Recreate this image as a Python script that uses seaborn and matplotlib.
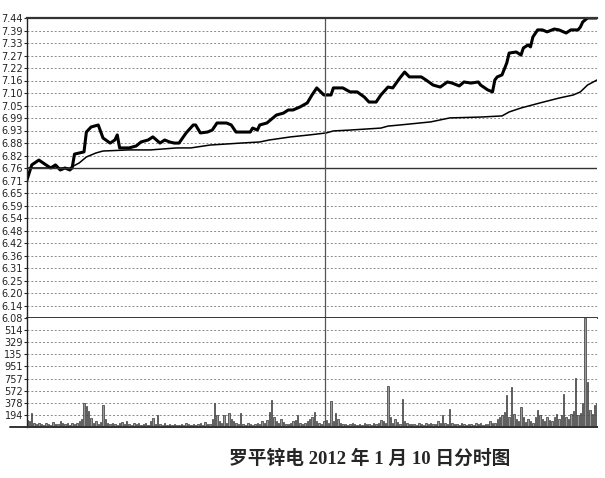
import numpy as np
import pandas as pd
import seaborn as sns
import matplotlib.pyplot as plt

# Intraday chart data (minute index 0..240)
price_min = [0, 2, 5, 8, 10, 12, 14, 16, 18, 19, 20, 22, 24, 25, 27, 30, 32, 35, 37, 38,
             39, 43, 46, 48, 51, 53, 56, 58, 60, 62, 64, 67, 70, 71, 73, 76, 78, 80, 84, 86,
             88, 94, 95, 97, 98, 101, 105, 108, 110, 112, 115, 118, 120, 122, 125, 128, 129, 133, 136, 139,
             142, 144, 147, 149, 152, 154, 157, 159, 161, 166, 168, 171, 174, 177, 179, 182, 184, 187, 190, 191,
             194, 196, 197, 198, 200, 202, 203, 206, 208, 209, 211, 212, 213, 215, 217, 219, 222, 224, 227, 229,
             232, 233, 234, 236, 240]
price_val = [6.706, 6.774, 6.796, 6.774, 6.760, 6.774, 6.751, 6.760, 6.751, 6.760, 6.823, 6.828, 6.833, 6.923, 6.946, 6.955, 6.896, 6.873, 6.887, 6.910,
             6.851, 6.851, 6.860, 6.878, 6.887, 6.901, 6.873, 6.887, 6.878, 6.873, 6.873, 6.919, 6.955, 6.955, 6.919, 6.923, 6.932, 6.964, 6.964, 6.955,
             6.923, 6.923, 6.941, 6.932, 6.955, 6.964, 7.000, 7.009, 7.023, 7.023, 7.037, 7.055, 7.091, 7.123, 7.091, 7.091, 7.123, 7.123, 7.105, 7.105,
             7.082, 7.059, 7.059, 7.091, 7.127, 7.123, 7.168, 7.195, 7.173, 7.173, 7.159, 7.136, 7.127, 7.150, 7.145, 7.132, 7.150, 7.145, 7.150, 7.136,
             7.114, 7.105, 7.159, 7.173, 7.182, 7.236, 7.281, 7.286, 7.272, 7.304, 7.318, 7.309, 7.354, 7.386, 7.386, 7.377, 7.390, 7.386, 7.372, 7.386,
             7.386, 7.399, 7.422, 7.440, 7.440]

avg_min = [0, 18, 22, 25, 29, 32, 43, 52, 63, 69, 77, 90, 98, 102, 111, 119, 126, 129, 136, 149,
           152, 157, 170, 178, 191, 200, 203, 208, 216, 224, 230, 233, 236, 240]
avg_val = [6.760, 6.760, 6.783, 6.810, 6.828, 6.837, 6.842, 6.842, 6.851, 6.851, 6.864, 6.873, 6.878, 6.887, 6.901, 6.910, 6.919, 6.928, 6.932, 6.941,
           6.950, 6.955, 6.969, 6.987, 6.991, 6.996, 7.014, 7.032, 7.055, 7.077, 7.091, 7.105, 7.136, 7.159]

volume = [110, 90, 218, 60, 40, 70, 50, 30, 60, 40,
          35, 80, 50, 40, 90, 60, 40, 55, 30, 70,
          45, 60, 90, 120, 374, 330, 250, 140, 60, 90,
          50, 80, 343, 120, 60, 40, 70, 45, 30, 60,
          80, 40, 90, 50, 35, 60, 40, 70, 30, 45,
          60, 30, 90, 140, 50, 187, 40, 30, 60, 35,
          40, 30, 50, 35, 25, 45, 30, 60, 40, 35,
          50, 30, 45, 60, 35, 80, 50, 40, 120, 374,
          187, 90, 60, 187, 70, 218, 120, 90, 60, 40,
          218, 50, 35, 60, 40, 30, 50, 70, 45, 90,
          60, 110, 234, 420, 150, 90, 60, 120, 80, 50,
          40, 60, 90, 110, 187, 70, 50, 60, 90, 120,
          150, 234, 100, 60, 40, 90, 110, 70, 405, 90,
          220, 120, 60, 45, 40, 30, 50, 60, 40, 35,
          45, 30, 60, 40, 50, 35, 60, 40, 70, 110,
          90, 60, 639, 150, 60, 120, 80, 50, 436, 100,
          60, 45, 40, 50, 35, 60, 40, 30, 70, 45,
          60, 40, 50, 90, 60, 187, 70, 50, 280, 60,
          40, 50, 35, 60, 45, 30, 50, 40, 35, 60,
          45, 60, 30, 50, 40, 90, 60, 70, 120, 150,
          180, 230, 499, 150, 623, 200, 120, 90, 312, 150,
          80, 120, 90, 60, 150, 265, 180, 120, 90, 150,
          110, 90, 150, 200, 130, 180, 514, 160, 120, 200,
          250, 763, 180, 220, 370, 1698, 701, 265, 200, 343,
          370]

price_labels = ['6.08', '6.14', '6.20', '6.25', '6.31', '6.36', '6.42', '6.48', '6.54', '6.59',
                '6.65', '6.71', '6.76', '6.82', '6.88', '6.93', '6.99', '7.05', '7.10', '7.16',
                '7.22', '7.27', '7.33', '7.39', '7.44']
# volume labels as they show on the chart (leading digit cut off in the picture)
vol_labels = ['194', '378', '572', '757', '951', '135', '329', '514']
prev_close = 6.76
title = '罗平锌电 2012 年 1 月 10 日分时图'

sns.set_style("white")
plt.rcParams['font.family'] = ['DejaVu Sans', 'Noto Sans CJK SC']

fig = plt.figure(figsize=(6.05, 4.78), dpi=100)
ax1 = fig.add_axes([27 / 605, 160 / 478, 570 / 605, 300 / 478])
ax2 = fig.add_axes([27 / 605, 51 / 478, 570 / 605, 109 / 478], sharex=ax1)

grid_kw = dict(color='#8a8a8a', lw=0.7, ls=(0, (2, 2)))

# Price panel
pdf = pd.DataFrame({'m': price_min, 'p': price_val})
adf = pd.DataFrame({'m': avg_min, 'p': avg_val})
sns.lineplot(data=pdf, x='m', y='p', ax=ax1, color='black', lw=2.2, estimator=None, sort=False)
sns.lineplot(data=adf, x='m', y='p', ax=ax1, color='black', lw=1.1, estimator=None, sort=False)
ax1.axhline(prev_close, color='#333333', lw=1.0)
ax1.set_xlim(0, 240)
ax1.set_ylim(6.08, 7.44)
ticks = np.linspace(6.08, 7.44, len(price_labels))
ax1.set_yticks(ticks)
ax1.set_yticklabels(price_labels)
for t in ticks[1:-1]:
    ax1.axhline(t, zorder=0, **grid_kw)

# Volume panel
vdf = pd.DataFrame({'m': np.arange(len(volume)), 'v': volume})
sns.barplot(data=vdf, x='m', y='v', ax=ax2, native_scale=True, color='#9a9a9a',
            edgecolor='#333333', linewidth=0.5, width=0.55, errorbar=None)
ax2.set_ylim(0, 1698)
vticks = np.arange(1, len(vol_labels) + 1) * 1698 / 9
ax2.set_yticks(vticks)
ax2.set_yticklabels(vol_labels)
for t in vticks:
    ax2.axhline(t, zorder=0, **grid_kw)
ax2.set_xlim(0, 240)

for ax in (ax1, ax2):
    ax.axvline(125.5, color='#555555', lw=0.9)
    ax.set_xlabel('')
    ax.set_ylabel('')
    ax.tick_params(axis='x', bottom=False, labelbottom=False)
    ax.tick_params(axis='y', left=True, length=2, width=0.8, pad=1, labelsize=7, labelcolor='#222222')
    ax.spines['right'].set_visible(False)
    ax.spines['left'].set_color('#222222')
    ax.spines['left'].set_linewidth(1.0)

ax1.spines['top'].set_linewidth(1.6)
ax1.spines['top'].set_color('#333333')
ax1.spines['bottom'].set_linewidth(1.3)
ax2.spines['top'].set_visible(False)
ax2.spines['bottom'].set_linewidth(1.4)
ax2.spines['bottom'].set_color('#333333')
ax2.plot([-0.03, 1.0], [0, 0], transform=ax2.transAxes, color='#333333', lw=1.4, clip_on=False)

fig.text(370 / 605, 1 - 459 / 478, title, ha='center', va='center', fontsize=13.5,
         fontweight='bold', family=['Liberation Serif', 'Noto Sans CJK SC'])

fig.savefig('out.png', dpi=100)
